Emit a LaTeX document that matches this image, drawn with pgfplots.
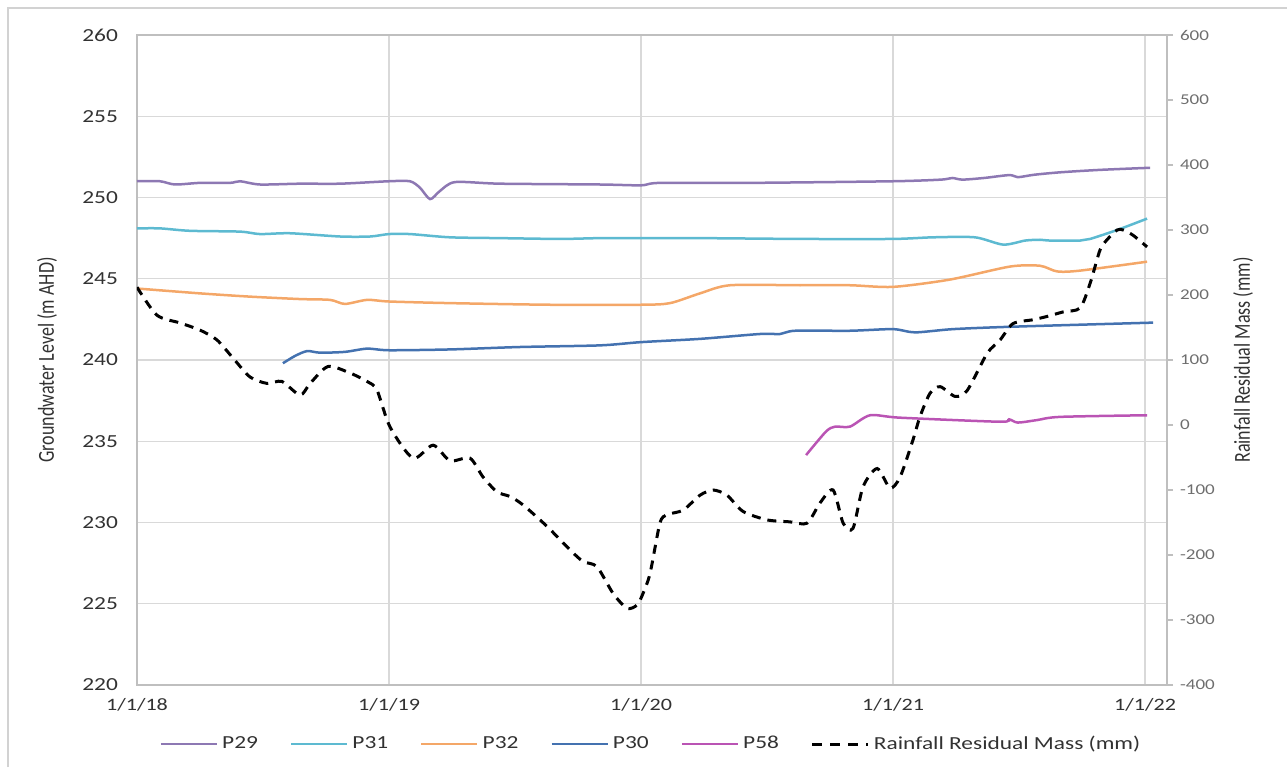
\documentclass[border=0pt]{standalone}
\usepackage{fontspec}
\setmainfont{Carlito}[FakeStretch=1.27]
\newfontfamily\plainfont{Carlito}
\usepackage{graphicx}
\usepackage{pgfplots}
\pgfplotsset{compat=1.18}
\definecolor{cP29}{RGB}{141,120,179}
\definecolor{cP31}{RGB}{93,186,209}
\definecolor{cP32}{RGB}{244,167,104}
\definecolor{cP30}{RGB}{68,114,176}
\definecolor{cP58}{RGB}{186,84,180}
\definecolor{gridgray}{RGB}{217,217,217}
\definecolor{axisgray}{RGB}{191,191,191}
\definecolor{txtdark}{RGB}{50,50,50}
\definecolor{txtgray}{RGB}{110,110,110}
\begin{document}
\begin{tikzpicture}
\useasboundingbox (-68.5pt,-41pt) rectangle (575pt,342.5pt);
\draw[gray!35, line width=0.6pt] (-64.5pt,-41pt) -- (-64.5pt,338.5pt) -- (575pt,338.5pt);
\begin{axis}[
  at={(0,0)}, anchor=south west,
  scale only axis, width=515pt, height=325pt,
  xmin=0, xmax=4.087, ymin=220, ymax=260,
  xtick={0,1,2,3,4},
  xticklabels={1/1/18,1/1/19,1/1/20,1/1/21,1/1/22},
  ytick={220,225,230,235,240,245,250,255,260},
  grid=major,
  major grid style={draw=gridgray, line width=0.6pt},
  axis line style={draw=axisgray, line width=0.8pt},
  major tick length=0pt,
  /pgf/number format/assume math mode=true,
  xticklabel style={font=\fontsize{8.7}{10}\selectfont, text=txtdark, yshift=-3pt},
  yticklabel style={font=\fontsize{9.2}{11}\selectfont, text=txtdark, xshift=-6pt},
  ylabel={\scalebox{1}[1.27]{\plainfont\fontsize{9}{11}\selectfont Groundwater Level (m AHD)}},
  ylabel style={at={(rel axis cs:-0.0874,0.5)}, anchor=center, text=txtdark},
  legend style={at={(rel axis cs:0.5,-0.0908)}, anchor=center, draw=none, fill=none,
    font=\fontsize{9.2}{11}\selectfont, text=txtdark,
    /tikz/every even column/.append style={column sep=14pt}},
  legend columns=-1,
  legend image code/.code={\draw[#1] (0pt,0pt) -- (28pt,0pt);},
  every axis plot/.append style={line width=1.25pt, smooth, tension=0.45},
]
% P29
\addplot[cP29] table {
0.000 251.0
0.091 251.0
0.151 250.8
0.250 250.9
0.369 250.9
0.409 251.0
0.488 250.8
0.647 250.85
0.806 250.85
1.000 251.0
1.083 251.0
1.123 250.6
1.163 249.9
1.202 250.4
1.262 250.95
1.440 250.85
1.837 250.8
2.000 250.75
2.075 250.9
2.433 250.9
3.000 251.0
3.190 251.1
3.235 251.2
3.275 251.1
3.360 251.2
3.462 251.38
3.495 251.25
3.560 251.4
3.663 251.55
3.821 251.7
4.020 251.83
};
\addlegendentry{P29}
% P31
\addplot[cP31] table {
0.000 248.1
0.091 248.1
0.210 247.95
0.409 247.9
0.488 247.75
0.607 247.8
0.806 247.6
0.925 247.6
1.000 247.75
1.083 247.75
1.242 247.55
1.440 247.5
1.679 247.45
1.837 247.5
2.000 247.5
2.234 247.5
2.631 247.45
3.000 247.45
3.159 247.55
3.325 247.55
3.437 247.1
3.524 247.35
3.583 247.4
3.623 247.35
3.742 247.35
3.782 247.45
3.889 248.0
4.008 248.7
};
\addlegendentry{P31}
% P32
\addplot[cP32] table {
0.000 244.4
0.250 244.1
0.448 243.9
0.647 243.75
0.766 243.7
0.825 243.45
0.913 243.7
1.000 243.6
1.242 243.5
1.639 243.4
2.000 243.4
2.115 243.5
2.234 244.1
2.353 244.6
2.631 244.6
2.829 244.6
3.000 244.5
3.226 244.95
3.464 245.75
3.583 245.8
3.651 245.45
3.742 245.5
4.008 246.05
};
\addlegendentry{P32}
% P30
\addplot[cP30] table {
0.579 239.8
0.627 240.25
0.675 240.55
0.726 240.45
0.825 240.5
0.913 240.7
1.000 240.6
1.242 240.65
1.520 240.8
1.837 240.9
2.000 241.1
2.234 241.3
2.472 241.6
2.552 241.6
2.611 241.8
2.829 241.8
3.000 241.9
3.087 241.7
3.238 241.9
3.476 242.05
4.032 242.3
};
\addlegendentry{P30}
% P58
\addplot[cP58] table {
2.655 234.15
2.734 235.6
2.770 235.9
2.829 235.9
2.909 236.6
3.028 236.45
3.425 236.2
3.460 236.35
3.495 236.15
3.570 236.3
3.663 236.5
4.008 236.6
};
\addlegendentry{P58}
\addlegendimage{black, line width=1.5pt, dash pattern=on 5pt off 4pt}
\addlegendentry{Rainfall Residual Mass (mm)}
\end{axis}
\begin{axis}[
  at={(0,0)}, anchor=south west,
  scale only axis, width=515pt, height=325pt,
  xmin=0, xmax=4.087, ymin=-400, ymax=600,
  axis x line=none,
  axis y line*=right,
  ytick={-400,-300,-200,-100,0,100,200,300,400,500,600},
  axis line style={draw=axisgray, line width=0.8pt},
  tick align=outside, major tick length=3pt,
  tick style={draw=axisgray, line width=0.8pt},
  /pgf/number format/assume math mode=true,
  yticklabel style={font=\fontsize{7.5}{9}\selectfont, text=txtgray},
  ylabel={\scalebox{1}[1.27]{\plainfont\fontsize{9}{11}\selectfont Rainfall Residual Mass (mm)}},
  ylabel style={at={(rel axis cs:1.0738,0.5)}, anchor=center, rotate=0, text=txtdark},
]
\addplot[black, line width=1.5pt, dash pattern=on 4.5pt off 3.5pt, smooth, tension=0.45] table {
0.000 212
0.079 169
0.171 157
0.250 146
0.317 131
0.381 103
0.448 74
0.516 64
0.575 67
0.647 46
0.687 64
0.758 90
0.845 80
0.913 67
0.952 54
1.004 -3
1.095 -51
1.175 -31
1.242 -55
1.321 -51
1.373 -80
1.429 -103
1.480 -110
1.532 -123
1.627 -156
1.718 -192
1.770 -210
1.825 -218
1.889 -259
1.944 -282
1.984 -277
2.008 -259
2.036 -228
2.075 -151
2.103 -138
2.167 -131
2.234 -108
2.286 -100
2.341 -108
2.405 -133
2.500 -146
2.591 -149
2.659 -151
2.710 -120
2.762 -100
2.802 -151
2.841 -159
2.881 -95
2.937 -67
2.988 -97
3.028 -80
3.079 -23
3.107 13
3.147 49
3.187 59
3.246 44
3.294 53
3.373 110
3.425 131
3.476 156
3.556 162
3.611 167
3.675 174
3.742 180
3.782 218
3.821 269
3.849 285
3.889 300
3.913 300
3.952 292
4.008 274
};
\end{axis}
\end{tikzpicture}
\end{document}
